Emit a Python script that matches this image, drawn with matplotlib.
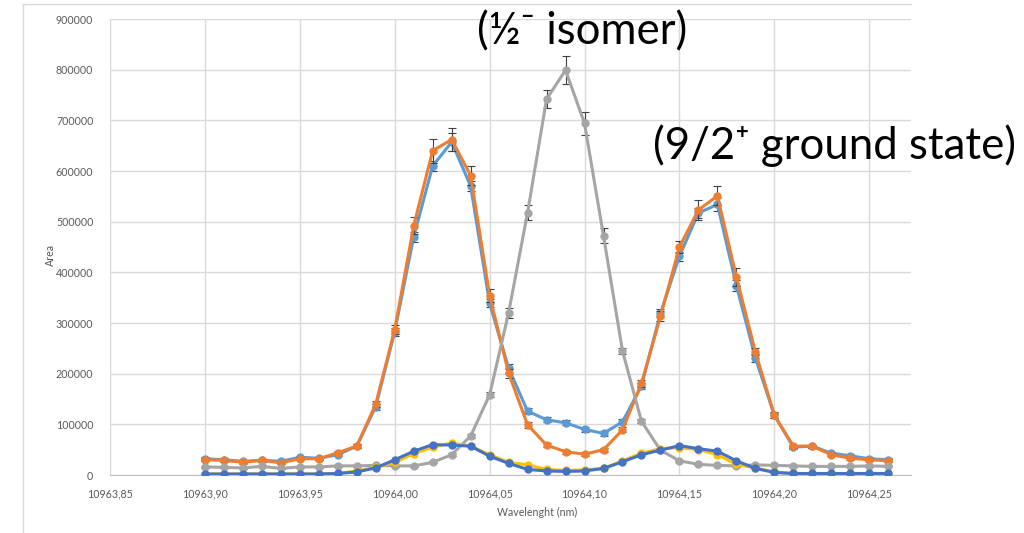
import matplotlib
matplotlib.use("Agg")
import matplotlib.pyplot as plt
from matplotlib.lines import Line2D


wavelength = [10963.90, 10963.91, 10963.92, 10963.93, 10963.94, 10963.95, 10963.96, 10963.97,
	10963.98, 10963.99, 10964.00, 10964.01, 10964.02, 10964.03, 10964.04, 10964.05,
	10964.06, 10964.07, 10964.08, 10964.09, 10964.10, 10964.11, 10964.12, 10964.13,
	10964.14, 10964.15, 10964.16, 10964.17, 10964.18, 10964.19, 10964.20, 10964.21,
	10964.22, 10964.23, 10964.24, 10964.25, 10964.26]

series1 = [32000, 30000, 27000, 29000, 27000, 35000, 33000, 40000, 57000, 135000, 283000, 470000,
	610000, 657000, 570000, 339000, 211000, 126000, 109000, 103000, 90000, 82000, 105000, 176000,
	319000, 432000, 517000, 534000, 374000, 231000, 118000, 55000, 57000, 43000, 38000, 32000, 30000]
series1_err = [3000, 3000, 3000, 3000, 3000, 3000, 3000, 3000, 4000, 6000, 8000, 10000,
	10000, 18000, 10000, 8000, 9000, 6000, 5000, 5000, 5000, 5000, 5000, 6000,
	8000, 9000, 10000, 12000, 10000, 7000, 5000, 3000, 3000, 3000, 3000, 3000, 3000]

series2 = [30000, 29000, 25000, 29000, 24000, 32000, 32000, 44000, 57000, 140000, 287000, 492000,
	640000, 662000, 591000, 354000, 201000, 99000, 59000, 46000, 41000, 50000, 89000, 181000,
	313000, 450000, 523000, 551000, 391000, 243000, 118000, 57000, 57000, 40000, 33000, 30000, 28000]
series2_err = [3000, 3000, 3000, 3000, 3000, 3000, 3000, 3000, 4000, 6000, 9000, 17000,
	24000, 22000, 19000, 13000, 9000, 6000, 4000, 4000, 4000, 4000, 5000, 7000,
	10000, 12000, 20000, 19000, 17000, 7000, 6000, 3000, 3000, 3000, 3000, 3000, 3000]

series3 = [16000, 15000, 14000, 17000, 13000, 16000, 16000, 18000, 18000, 19000, 18000, 18000,
	25000, 40000, 77000, 158000, 320000, 518000, 742000, 799000, 694000, 472000, 245000, 106000,
	49000, 28000, 21000, 19000, 18000, 20000, 19000, 18000, 17000, 17000, 17000, 18000, 17000]
series3_err = [2000, 2000, 2000, 2000, 2000, 2000, 2000, 2000, 2000, 2000, 2000, 2000,
	2000, 3000, 4000, 5000, 10000, 15000, 18000, 27000, 22000, 15000, 6000, 4000,
	3000, 2000, 2000, 2000, 2000, 2000, 2000, 2000, 2000, 2000, 2000, 2000, 2000]

series4 = [2000, 2000, 2000, 2000, 2000, 2000, 2000, 3000, 8000, 15000, 25000, 42000,
	55000, 63000, 57000, 40000, 25000, 20000, 11000, 9000, 10000, 13000, 28000, 43000,
	52000, 54000, 50000, 40000, 21000, 14000, 6000, 3000, 2000, 2000, 2000, 1000, 2000]

series5 = [2000, 2000, 2000, 2000, 2000, 2000, 2000, 3000, 6000, 14000, 30000, 47000,
	60000, 59000, 57000, 37000, 23000, 11000, 8000, 7000, 8000, 13000, 26000, 40000,
	49000, 58000, 52000, 47000, 28000, 13000, 5000, 3000, 3000, 3000, 3000, 3000, 3000]

x_ticks = [10963.85, 10963.90, 10963.95, 10964.00, 10964.05, 10964.10, 10964.15, 10964.20, 10964.25]
y_ticks = [0, 100000, 200000, 300000, 400000, 500000, 600000, 700000, 800000, 900000]


def main():
	plt.rcParams['font.family'] = ['Lato', 'DejaVu Sans']
	fig = plt.figure(figsize=(10.24, 5.33), dpi=100)

	# outer chart frame (only top and left edges visible)
	fig.add_artist(Line2D([23 / 1024, 911 / 1024], [1 - 4 / 533, 1 - 4 / 533], color='#D9D9D9', lw=1))
	fig.add_artist(Line2D([23 / 1024, 23 / 1024], [0, 1 - 4 / 533], color='#D9D9D9', lw=1))

	ax = fig.add_axes([110 / 1024, 1 - 475 / 533, 801 / 1024, 456 / 533])

	err_kw = dict(ecolor='#404040', elinewidth=0.8, capsize=3, capthick=0.8)
	ax.errorbar(wavelength, series1, yerr=series1_err, color='#5B9BD5', marker='o', ms=5, lw=2.2, zorder=3, **err_kw)
	ax.errorbar(wavelength, series2, yerr=series2_err, color='#ED7D31', marker='o', ms=5, lw=2.2, zorder=4, **err_kw)
	ax.errorbar(wavelength, series3, yerr=series3_err, color='#A5A5A5', marker='o', ms=5, lw=2.2, zorder=5, **err_kw)
	ax.plot(wavelength, series4, color='#FFC000', marker='o', ms=5, lw=2.2, zorder=6)
	ax.plot(wavelength, series5, color='#4472C4', marker='o', ms=5, lw=2.2, zorder=7)

	ax.set_xlim(10963.85, 10964.272)
	ax.set_ylim(0, 900000)
	ax.set_xticks(x_ticks)
	ax.set_xticklabels([('%.2f' % v).replace('.', ',') for v in x_ticks])
	ax.set_yticks(y_ticks)
	ax.set_yticklabels([str(v) for v in y_ticks])
	ax.grid(True, color='#D9D9D9', lw=1)
	ax.set_axisbelow(True)
	for side in ['top', 'right', 'left']:
		ax.spines[side].set_visible(False)
	ax.spines['bottom'].set_color('#BFBFBF')
	ax.tick_params(length=0, labelsize=7.7, labelcolor='#595959')
	ax.tick_params(axis='y', pad=12)
	ax.tick_params(axis='x', pad=10)

	fig.text(50 / 1024, 1 - 255 / 533, 'Area', rotation=90, ha='center', va='center', fontsize=7.7, color='#595959')
	fig.text(537 / 1024, 1 - 512 / 533, 'Wavelenght (nm)', ha='center', va='center', fontsize=7.7, color='#595959')

	# big annotations over the peaks
	fig.text(477 / 1024, 1 - 32 / 533, '(\u00bd\u207b isomer)', ha='left', va='center', fontsize=31.5, color='black')
	fig.text(653 / 1024, 1 - 146 / 533, '(9/2\u207a ground state)', ha='left', va='center', fontsize=31.5, color='black')

	fig.savefig('out.png', dpi=100)


if __name__ == "__main__":
	main()
